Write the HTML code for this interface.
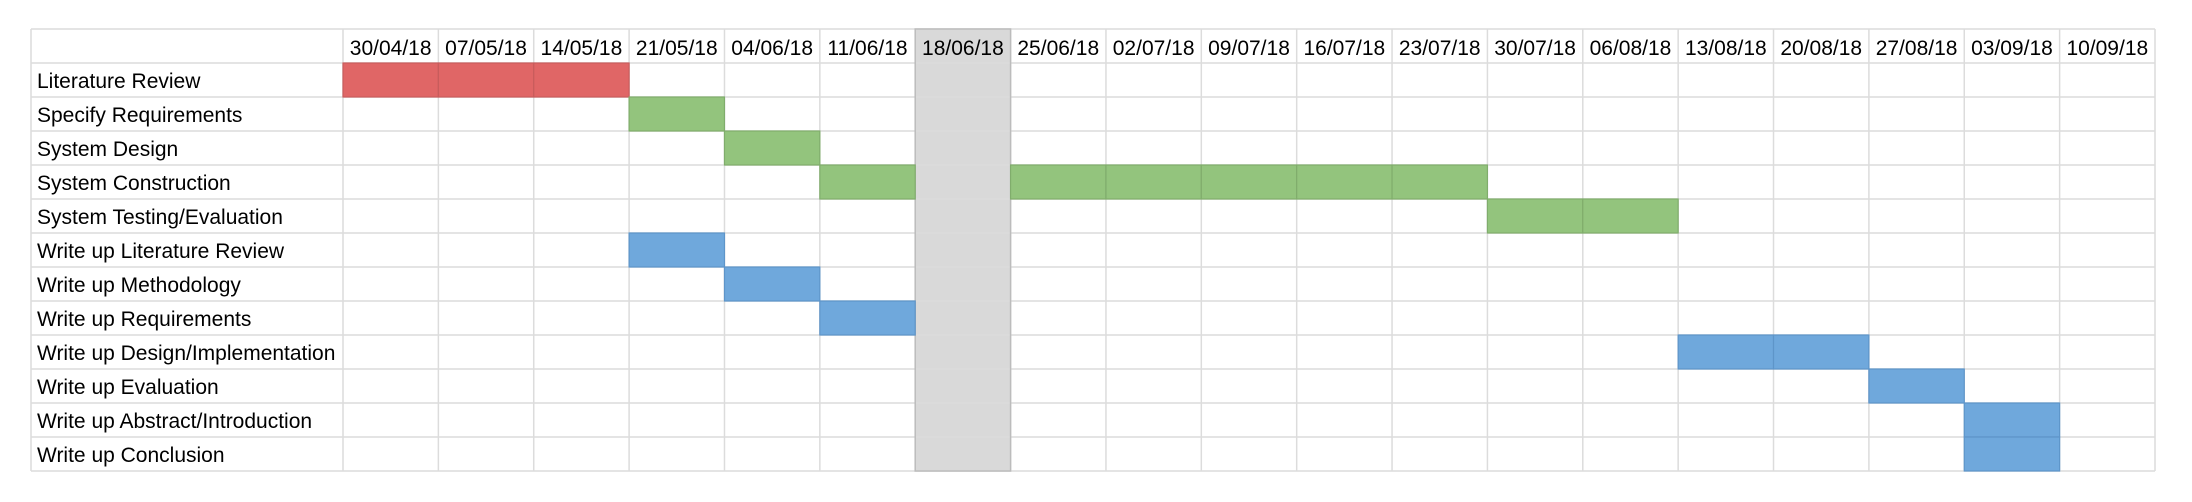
<!DOCTYPE html>
<html><head><meta charset="utf-8">
<style>
html,body{margin:0;padding:0;background:#fff;width:2192px;height:502px;overflow:hidden}
svg text{font-family:"Liberation Sans",Arial,sans-serif;font-size:21px;fill:#000}
</style></head>
<body>
<svg id="chart" width="2192" height="502" xmlns="http://www.w3.org/2000/svg"></svg>
<script>
const weeks = ["30/04/18","07/05/18","14/05/18","21/05/18","04/06/18","11/06/18","18/06/18","25/06/18","02/07/18","09/07/18","16/07/18","23/07/18","30/07/18","06/08/18","13/08/18","20/08/18","27/08/18","03/09/18","10/09/18"];
const tasks = ["Literature Review","Specify Requirements","System Design","System Construction","System Testing/Evaluation","Write up Literature Review","Write up Methodology","Write up Requirements","Write up Design/Implementation","Write up Evaluation","Write up Abstract/Introduction","Write up Conclusion"];
const taskStart = [0,3,4,5,12,3,4,5,14,16,17,17];
const taskLength = [3,1,1,1,2,1,1,1,2,1,1,1];
const taskKind = ["red","green","green","green","green","blue","blue","blue","blue","blue","blue","blue"];
const extraBarsTask = [3];
const extraBarsStart = [7];
const extraBarsLength = [5];
const holidayCol = 6;

const svg = document.getElementById('chart');
const NS = 'http://www.w3.org/2000/svg';
const L = 31, LR = 343, R = 2155, T = 29, HB = 63, RH = 34;
const CW = (R - LR) / weeks.length;
const x = i => LR + i * CW;
const y = r => HB + r * RH;
const fills = {red:"#e06666",green:"#93c47d",blue:"#6fa8dc"};
const strokes = {red:"#c85c5c",green:"#80ad6c",blue:"#5e95c9"};
function mk(tag, attrs){const e=document.createElementNS(NS,tag);for(const k in attrs)e.setAttribute(k,attrs[k]);svg.appendChild(e);return e;}

const hc = mk('rect',{x:x(holidayCol),y:T,width:CW,height:y(tasks.length)-T,fill:"#d9d9d9"});



const g = document.createElementNS(NS,'g');


svg.appendChild(g);
function line(x1,y1,x2,y2){const l=document.createElementNS(NS,'line');l.setAttribute('x1',x1);l.setAttribute('y1',y1);l.setAttribute('x2',x2);l.setAttribute('y2',y2);l.setAttribute('stroke','#dcdcdc');l.setAttribute('stroke-width','1.5');g.appendChild(l);}
line(L,T,R,T);
for(let r=0;r<=tasks.length;r++) line(L,y(r),R,y(r));
line(L,T,L,y(tasks.length));
for(let c=0;c<=weeks.length;c++) line(x(c),T,x(c),y(tasks.length));
const hb = mk('rect',{x:x(holidayCol),y:T,width:CW,height:y(tasks.length)-T,fill:"none",stroke:"#bcbcbc",'stroke-width':1.5});



function bar(r,s,len,kind){
  for(let k=0;k<len;k++){
    const b = mk('rect',{x:x(s+k),y:y(r),width:CW,height:RH,fill:fills[kind],stroke:strokes[kind],'stroke-width':1.2});
    
    
  }
}
for(let i=0;i<tasks.length;i++) bar(i,taskStart[i],taskLength[i],taskKind[i]);
for(let i=0;i<extraBarsTask.length;i++) bar(extraBarsTask[i],extraBarsStart[i],extraBarsLength[i],taskKind[extraBarsTask[i]]);

weeks.forEach((w,i)=>{
  const t = mk('text',{x:x(i)+CW/2,y:T+26,'text-anchor':'middle'});
  t.textContent = w;
  
  
});
tasks.forEach((n,i)=>{
  const t = mk('text',{x:L+6,y:y(i)+25});
  t.textContent = n;
  
  
});
</script>
</body></html>
